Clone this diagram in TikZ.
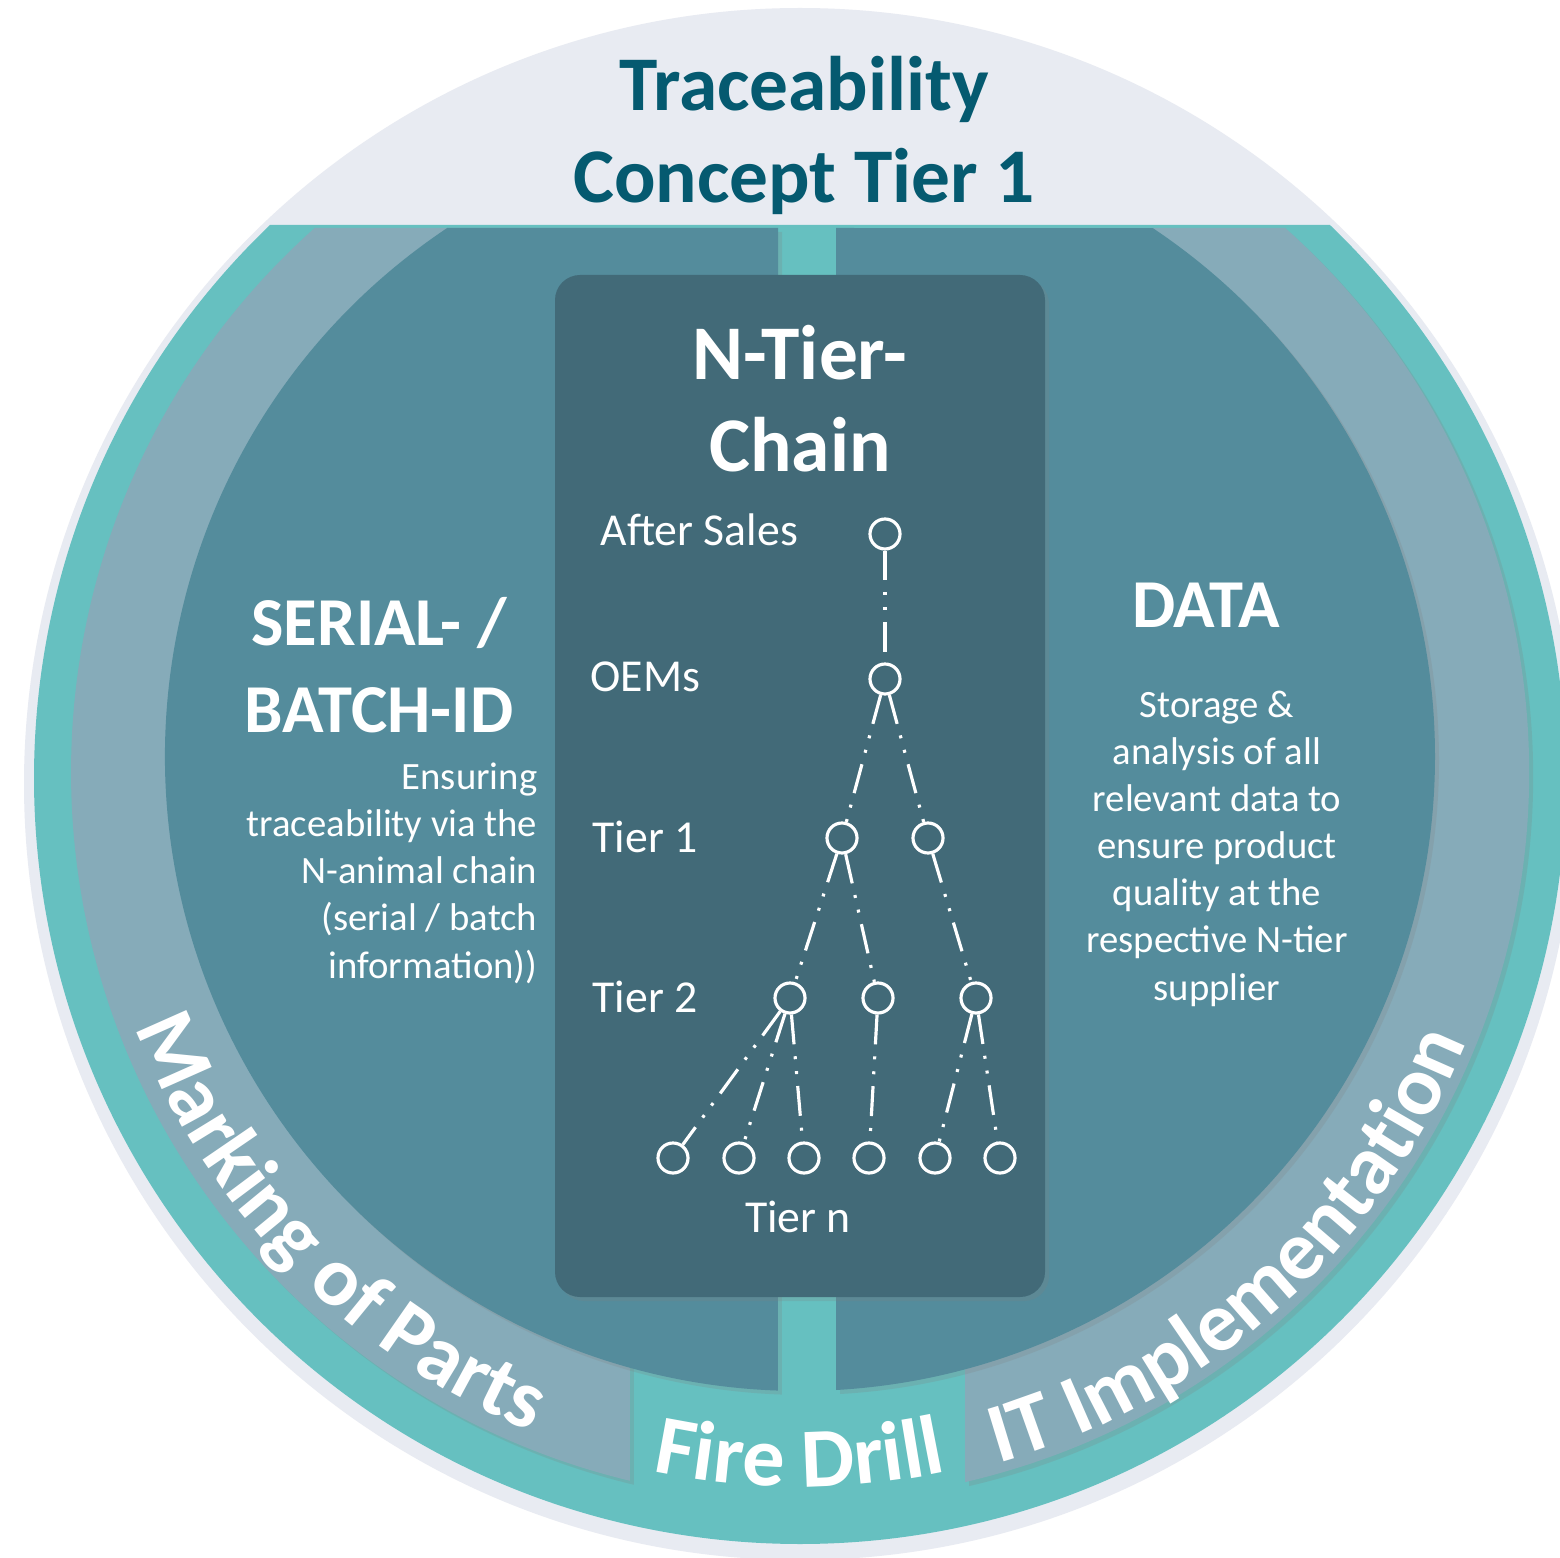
\documentclass[tikz,border=0pt]{standalone}
\usepackage{fontspec}
\setmainfont{Carlito}
\usetikzlibrary{decorations.text,shadows}

\definecolor{haze}{HTML}{E8EBF2}
\definecolor{lagoon}{HTML}{66C0C0}
\definecolor{slate}{HTML}{86ABB9}
\definecolor{petrol}{HTML}{548C9C}
\definecolor{panel}{HTML}{426A78}
\definecolor{heading}{HTML}{055A70}

\newcommand\ringfont{\bfseries\fontsize{24}{24}\selectfont}

\tikzset{
  softshadow/.style={drop shadow={opacity=0.22, shadow xshift=0.04cm, shadow yshift=-0.04cm}},
  tiernode/.style={circle, draw=white, line width=0.9pt, minimum size=0.3cm, inner sep=0pt},
  chainlink/.style={draw=white, line width=0.9pt,
    dash pattern=on 8.5pt off 3.4pt on 0.85pt off 3.4pt on 0.85pt off 3.4pt},
  tierlabel/.style={text=white, inner sep=0pt, font=\fontsize{13}{15}\selectfont},
  blurb/.style={text=white, inner sep=0pt, font=\fontsize{11}{13.4}\selectfont},
  sidehead/.style={text=white, inner sep=0pt, align=center, font=\bfseries\fontsize{19.5}{24.7}\selectfont},
  bighead/.style={inner sep=0pt, align=center, font=\bfseries\fontsize{22}{26.4}\selectfont},
  ringtext/.style={decorate, decoration={text along path, text align=center,
    text color=white, text={|\ringfont|#1}}}
}

\begin{document}
\begin{tikzpicture}[x=0.01cm, y=0.01cm]
  \useasboundingbox[fill=white] (0,0) rectangle (1560,-1558);

  % rings
  \fill[haze] (800,-784) circle (776);
  \fill[lagoon] (1330,-225) -- (270,-225) arc[start angle=133.78, end angle=406.22, radius=766] -- cycle;
  \fill[slate, softshadow] (630,-228) -- (314.7,-228) arc[start angle=131.74, end angle=256.51, radius=729] -- cycle;
  \fill[slate, softshadow] (1285.3,-228) -- (965,-228) -- (965,-1482.1) arc[start angle=-76.92, end angle=48.26, radius=729] -- cycle;
  \fill[petrol, softshadow] (778,-228) -- (447.2,-228) arc[start angle=123.75, end angle=268.01, radius=635] -- cycle;
  \fill[petrol, softshadow] (836,-228) -- (836,-1390) arc[start angle=-86.75, end angle=56.25, radius=635] -- cycle;

  % middle panel
  \fill[panel, rounded corners=0.25cm, softshadow] (555,-275) rectangle (1045,-1297);

  % words round the rim
  \path[ringtext=Marking of Parts] (800,-772) ++(184.4:712) arc[start angle=184.4, end angle=264.4, radius=712];
  \path[ringtext=Fire Drill] (800,-772) ++(240:715) arc[start angle=240, end angle=300, radius=715];
  \path[ringtext=IT Implementation] (800,-772) ++(272:719) arc[start angle=272, end angle=352, radius=719];

  % headings (base = last line)
  \node[bighead, text=heading, anchor=base] (title) at (804,-203) {Traceability\\Concept Tier 1};
  \node[bighead, text=white, anchor=base] (chain) at (800,-472) {N-Tier-\\Chain};
  \node[sidehead, anchor=base] (serial) at (379,-732) {SERIAL- /\\BATCH-ID};
  \node[sidehead, anchor=base] (data) at (1206,-628) {DATA};

  \node[blurb, align=right, anchor=base east] (serialtxt) at (538,-978)
    {Ensuring\\traceability via the\\N-animal chain\\(serial / batch\\information))};
  \node[blurb, align=center, anchor=base] (datatxt) at (1217,-1000)
    {Storage \&\\analysis of all\\relevant data to\\ensure product\\quality at the\\respective N-tier\\supplier};

  % tier labels
  \node[tierlabel, anchor=base west] (lblas) at (600,-546) {After Sales};
  \node[tierlabel, anchor=base west] (lbloem) at (590,-692) {OEMs};
  \node[tierlabel, anchor=base west] (lblone) at (592,-852) {Tier 1};
  \node[tierlabel, anchor=base west] (lbltwo) at (592,-1012) {Tier 2};
  \node[tierlabel, anchor=base] (lbln) at (798,-1232) {Tier n};

  % the chain
  \node[tiernode] (as) at (885,-534) {};
  \node[tiernode] (oem) at (885,-679) {};
  \node[tiernode] (ta) at (842,-838) {};
  \node[tiernode] (tb) at (928,-838) {};
  \node[tiernode] (sa) at (790,-998) {};
  \node[tiernode] (sb) at (878,-998) {};
  \node[tiernode] (sc) at (976,-998) {};
  \foreach \i/\x in {1/673,2/739,3/804,4/869,5/935,6/1000}
    \node[tiernode] (n\i) at (\x,-1158) {};

  \draw[chainlink] (as) -- (oem);
  \draw[chainlink] (oem) -- (ta);
  \draw[chainlink] (oem) -- (tb);
  \draw[chainlink] (ta) -- (sa);
  \draw[chainlink] (ta) -- (sb);
  \draw[chainlink] (tb) -- (sc);
  \foreach \j in {1,2,3}
    \draw[chainlink] (sa) -- (n\j);
  \draw[chainlink] (sb) -- (n4);
  \draw[chainlink] (sc) -- (n5);
  \draw[chainlink] (sc) -- (n6);
\end{tikzpicture}
\end{document}
